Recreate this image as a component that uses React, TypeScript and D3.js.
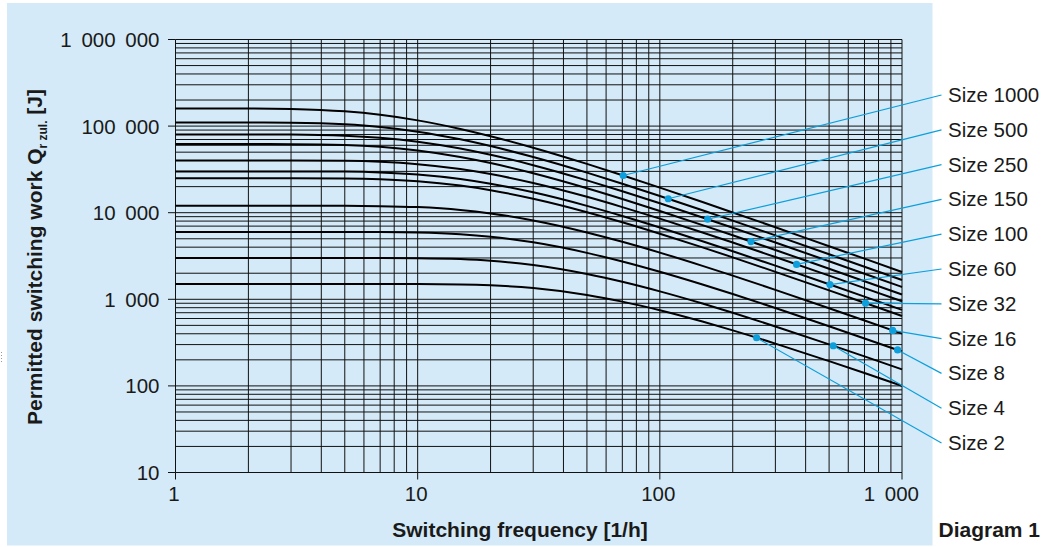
import React from 'react';
import * as d3 from 'd3';

// Switching frequency values (1/h) at which the curves were read
const freqs = [1, 2, 3, 5, 7, 10, 15, 20, 30, 50, 70, 100, 150, 200, 300, 500, 700, 1000];

// Permitted switching work Q_r zul. [J] read per size
const size1000 = [160000, 160000, 157900, 148100, 135000, 116400, 92700, 76500, 56300, 36600, 27100, 19500, 13280, 10070, 6790, 4100, 2945, 2067];
const size500 = [110000, 110000, 109330, 104840, 97640, 86190, 70330, 58820, 43950, 29000, 21600, 15610, 10670, 8100, 5470, 3315, 2378, 1670];
const size250 = [80000, 80000, 79770, 77580, 73430, 66100, 55090, 46650, 35360, 23620, 17700, 12840, 8810, 6700, 4530, 2750, 1975, 1388];
const size150 = [62000, 62000, 61870, 60470, 57590, 52250, 43940, 37420, 28540, 19180, 14400, 10470, 7190, 5480, 3710, 2250, 1617, 1137];
const size100 = [40000, 40000, 39990, 39670, 38700, 36370, 31920, 27950, 22030, 15250, 11610, 8540, 5915, 4524, 3075, 1875, 1348, 948];
const size60 = [30000, 30000, 29990, 29820, 29210, 27660, 24520, 21620, 17180, 11990, 9160, 6750, 4690, 3590, 2445, 1492, 1073, 755];
const size32 = [25000, 25000, 24990, 24860, 24390, 23140, 20580, 18190, 14490, 10140, 7755, 5720, 3980, 3050, 2075, 1267, 912, 642];
const size16 = [12000, 12000, 12000, 11990, 11910, 11600, 10760, 9810, 8140, 5920, 4615, 3460, 2434, 1876, 1286, 789, 569, 401];
const size8 = [6000, 6000, 6000, 6000, 5986, 5914, 5647, 5284, 4545, 3436, 2731, 2077, 1480, 1149, 793, 489, 353, 250];
const size4 = [3000, 3000, 3000, 3000, 2998, 2985, 2912, 2788, 2487, 1960, 1593, 1234, 893, 698, 486, 302, 219, 155];
const size2 = [1500, 1500, 1500, 1500, 1500, 1498, 1485, 1452, 1350, 1123, 940, 748, 553, 438, 308, 193, 141, 100];

const seriesNames = ['Size 1000', 'Size 500', 'Size 250', 'Size 150', 'Size 100', 'Size 60', 'Size 32', 'Size 16', 'Size 8', 'Size 4', 'Size 2'];
const seriesValues = [size1000, size500, size250, size150, size100, size60, size32, size16, size8, size4, size2];
// frequency where each label's leader line touches its curve
const labelFreqs = [70.6, 108.3, 157.5, 237.8, 367, 504, 707, 915, 959, 520, 251];

const yTickValues = [10, 100, 1000, 10000, 100000, 1000000];
const yTickLabels = ['10', '100', '1 000', '10 000', '100 000', '1 000 000'];
const xTickValues = [1, 10, 100, 1000];
const xTickLabels = ['1', '10', '100', '1 000'];

const FONT = "'Liberation Sans', Arial, Helvetica, sans-serif";
const BLUE = '#0d9fdb';

export default function App() {
  const x = d3.scaleLog().domain([1, 1000]).range([175.5, 902]);
  const y = d3.scaleLog().domain([10, 1000000]).range([472.5, 39.5]);

  const xGrid: number[] = [];
  for (let k = 0; k < 3; k++) for (let m = 1; m <= 9; m++) xGrid.push(m * Math.pow(10, k));
  xGrid.push(1000);
  const yGrid: number[] = [];
  for (let k = 1; k < 6; k++) for (let m = 1; m <= 9; m++) yGrid.push(m * Math.pow(10, k));
  yGrid.push(1000000);

  const line = d3
    .line<number>()
    .x((_, i) => x(freqs[i]))
    .y((d) => y(d))
    .curve(d3.curveMonotoneX);

  const valueAt = (vals: number[], f: number) => {
    for (let i = 0; i < freqs.length - 1; i++) {
      if (f >= freqs[i] && f <= freqs[i + 1]) {
        const t = (Math.log(f) - Math.log(freqs[i])) / (Math.log(freqs[i + 1]) - Math.log(freqs[i]));
        return Math.exp(Math.log(vals[i]) + t * (Math.log(vals[i + 1]) - Math.log(vals[i])));
      }
    }
    return vals[vals.length - 1];
  };

  const labelY0 = 95;
  const labelStep = 34.8;

  return (
    <svg
      width={1056}
      height={547}
      style={{ position: 'absolute', left: 0, top: 0, display: 'block', background: '#fff' }}
      fontFamily={FONT}
    >
      <rect x={7} y={3} width={925.5} height={542.5} fill="#d5eaf8" />
      <line x1={1.5} x2={1.5} y1={352} y2={363} stroke="#999" strokeWidth={1} strokeDasharray="1 2" />

      {/* grid */}
      <g stroke="#111" strokeWidth={1}>
        {xGrid.map((f, i) => (
          <line key={'vx' + i} x1={x(f)} x2={x(f)} y1={y(1000000)} y2={y(10)} />
        ))}
        {yGrid.map((v, i) => (
          <line key={'hy' + i} x1={x(1)} x2={x(1000)} y1={y(v)} y2={y(v)} />
        ))}
        {yTickValues.map((v, i) => (
          <line key={'ty' + i} x1={x(1) - 7.5} x2={x(1)} y1={y(v)} y2={y(v)} />
        ))}
        {xTickValues.map((f, i) => (
          <line key={'tx' + i} x1={x(f)} x2={x(f)} y1={y(10)} y2={y(10) + 7} />
        ))}
      </g>

      {/* curves */}
      <g fill="none" stroke="#000" strokeWidth={2}>
        {seriesValues.map((vals, i) => (
          <path key={'c' + i} d={line(vals) || ''} />
        ))}
      </g>

      {/* leader lines and labels */}
      {seriesNames.map((name, i) => {
        const f = labelFreqs[i];
        const cx = x(f);
        const cy = y(valueAt(seriesValues[i], f));
        const ly = labelY0 + i * labelStep;
        return (
          <g key={'l' + i}>
            <line x1={cx} y1={cy} x2={941.5} y2={ly} stroke={BLUE} strokeWidth={1.2} />
            <circle cx={cx} cy={cy} r={3.6} fill={BLUE} />
            <text x={948} y={ly + 7} fontSize={20.5} fill="#1a1a1a">
              {name}
            </text>
          </g>
        );
      })}

      {/* y tick labels */}
      {yTickValues.map((v, i) => (
        <text
          key={'yl' + i}
          x={159.5}
          y={y(v) + 7.4}
          fontSize={20.5}
          textAnchor="end"
          fill="#1a1a1a"
          style={{ wordSpacing: '4px' }}
        >
          {yTickLabels[i]}
        </text>
      ))}

      {/* x tick labels */}
      {xTickValues.map((f, i) => (
        <text
          key={'xl' + i}
          x={i === xTickValues.length - 1 ? x(f) + 17 : x(f) - 1.5}
          y={501}
          fontSize={20.5}
          textAnchor={i === xTickValues.length - 1 ? 'end' : 'middle'}
          fill="#1a1a1a"
          style={{ wordSpacing: '4px' }}
        >
          {xTickLabels[i]}
        </text>
      ))}

      <text x={520} y={536.5} fontSize={21} fontWeight="bold" textAnchor="middle" fill="#1a1a1a">
        Switching frequency [1/h]
      </text>
      <text x={938.5} y={536.5} fontSize={21} fontWeight="bold" fill="#1a1a1a">
        Diagram 1
      </text>
      <text transform="translate(41.5,257) rotate(-90)" fontSize={21} fontWeight="bold" textAnchor="middle" fill="#1a1a1a">
        Permitted switching work Q<tspan fontSize={12} dy={5}>r zul.</tspan>
        <tspan dy={-5}> [J]</tspan>
      </text>
    </svg>
  );
}
